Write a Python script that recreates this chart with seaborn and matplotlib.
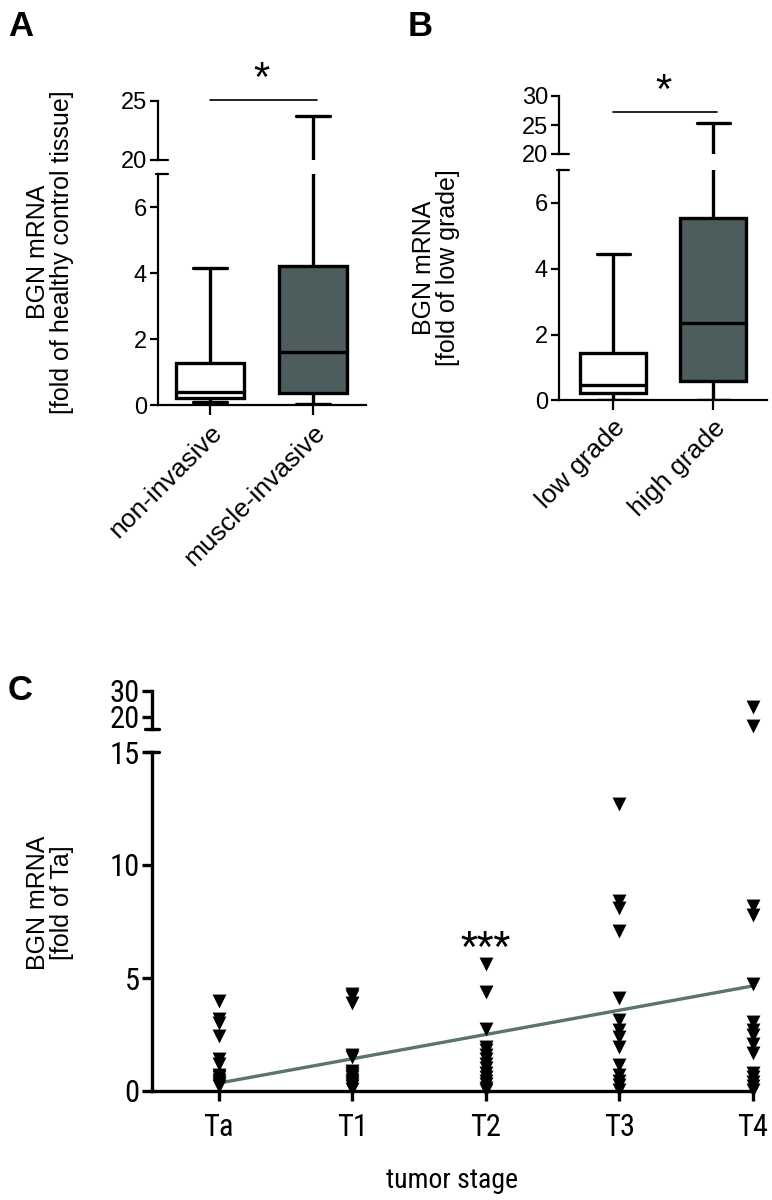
import numpy as np
import pandas as pd
import matplotlib
matplotlib.use("Agg")
import matplotlib.pyplot as plt
import seaborn as sns

# =============================================================================
# DATA
# =============================================================================

# Panel A - five-number summaries (min, q1, median, q3, max)
invasion_groups = ["non-invasive", "muscle-invasive"]
non_invasive = [0.08, 0.2, 0.4, 1.28, 4.15]
muscle_invasive = [0.02, 0.35, 1.6, 4.2, 23.7]

# Panel B - five-number summaries
grade_groups = ["low grade", "high grade"]
low_grade = [0.01, 0.23, 0.46, 1.45, 4.45]
high_grade = [0.02, 0.6, 2.35, 5.55, 25.3]

# Panel C - single values per tumor stage
stages = ["Ta", "T1", "T2", "T3", "T4"]
ta_vals = [4.0, 3.2, 3.0, 2.45, 1.4, 1.2, 0.7, 0.6, 0.5, 0.4, 0.3, 0.2]
t1_vals = [4.3, 4.2, 3.9, 1.6, 1.5, 0.9, 0.8, 0.7, 0.6, 0.5, 0.4, 0.3, 0.2, 0.1]
t2_vals = [5.6, 4.4, 2.75, 1.95, 1.8, 1.6, 1.4, 1.2, 1.0, 0.8, 0.6, 0.45,
           0.3, 0.15, 0.05]
t3_vals = [12.7, 8.4, 8.1, 7.1, 4.1, 3.15, 2.7, 2.4, 1.95, 1.15, 0.7, 0.45,
           0.25, 0.05]
t4_vals = [23.8, 16.5, 8.2, 7.8, 4.75, 3.05, 2.7, 2.5, 2.1, 1.7, 0.8, 0.6,
           0.4, 0.2, 0.05]
trend_vals = [0.35, 4.65]     # trend line at Ta and at T4

sig_a = 25.1
sig_b = 27.2
sig_c = 6.3

# =============================================================================
# STYLE
# =============================================================================

sns.set_theme(style="ticks")
plt.rcParams["font.family"] = ["Liberation Sans", "DejaVu Sans"]
plt.rcParams["axes.linewidth"] = 1.6
plt.rcParams["xtick.major.width"] = 1.6
plt.rcParams["ytick.major.width"] = 1.6
plt.rcParams["xtick.major.size"] = 7
plt.rcParams["ytick.major.size"] = 6
plt.rcParams["xtick.color"] = "black"
plt.rcParams["ytick.color"] = "black"
plt.rcParams["axes.edgecolor"] = "black"
plt.rcParams["text.color"] = "black"
plt.rcParams["axes.labelcolor"] = "black"

NARROW = ["Liberation Sans Narrow", "Roboto Condensed", "Archivo Narrow",
          "PT Sans Narrow", "Liberation Sans", "DejaVu Sans"]
DARK = "#4a5e60"
LINE = "#5b7472"
W, H = 772, 1200

fig = plt.figure(figsize=(7.72, 12), dpi=100)


def px_axes(x0, x1, y0, y1):
    return fig.add_axes([x0 / W, 1 - y1 / H, (x1 - x0) / W, (y1 - y0) / H])


def box_panel(ax_lo, ax_hi, groups, data_a, data_b, hi_lim, hi_ticks, xlim, sig):
    df = pd.DataFrame({
        "group": [groups[0]] * len(data_a) + [groups[1]] * len(data_b),
        "value": data_a + data_b,
    })
    for ax in (ax_lo, ax_hi):
        sns.boxplot(
            data=df, x="group", y="value", hue="group", order=groups,
            palette=["white", DARK], whis=(0, 100), width=0.66,
            linewidth=2.4, linecolor="black", showfliers=False,
            legend=False, ax=ax
        )
        ax.set_xlim(*xlim)
        ax.set_xlabel("")
        ax.set_ylabel("")
        ax.tick_params(labelsize=17, pad=2)
    ax_lo.set_ylim(0, 7)
    ax_lo.set_yticks([0, 2, 4, 6])
    ax_lo.set_xticks(range(len(groups)))
    ax_lo.set_xticklabels(groups, rotation=45, ha="right",
                          rotation_mode="anchor", fontsize=19)
    ax_lo.tick_params(axis="x", pad=4)
    sns.despine(ax=ax_lo)

    ax_hi.set_ylim(*hi_lim)
    ax_hi.set_yticks(hi_ticks)
    ax_hi.set_xticks([])
    sns.despine(ax=ax_hi, bottom=True)

    # break marks
    ax_lo.plot([-0.01, 0.05], [1, 1], transform=ax_lo.transAxes,
               color="black", lw=1.6, clip_on=False)
    ax_hi.plot([-0.01, 0.05], [0, 0], transform=ax_hi.transAxes,
               color="black", lw=1.6, clip_on=False)

    # significance bar
    ax_hi.plot([0, 1.04], [sig, sig], color="black", lw=1.2, clip_on=False)
    ax_hi.text(0.5, sig, "*", ha="center", va="bottom", fontsize=30,
               clip_on=False)


# =============================================================================
# PANEL A
# =============================================================================

a_lo = px_axes(158, 366, 174, 405)
a_hi = px_axes(158, 366, 100.7, 160)
box_panel(a_lo, a_hi, invasion_groups, non_invasive, muscle_invasive,
          (20, 25), [20, 25], (-0.505, 1.515), sig_a)
fig.text(50 / W, 1 - 252 / H,
         "BGN mRNA\n[fold of healthy control tissue]",
         rotation=90, ha="center", va="center", fontsize=18,
         multialignment="center", linespacing=1.05)
fig.text(8 / W, 1 - 10 / H, "A", fontsize=25, fontweight="bold",
         ha="left", va="top")

# =============================================================================
# PANEL B
# =============================================================================

b_lo = px_axes(559, 767, 170, 400.3)
b_hi = px_axes(559, 767, 96, 154)
box_panel(b_lo, b_hi, grade_groups, low_grade, high_grade,
          (20, 30), [20, 25, 30], (-0.54, 1.54), sig_b)
fig.text(436 / W, 1 - 268 / H,
         "BGN mRNA\n[fold of low grade]",
         rotation=90, ha="center", va="center", fontsize=18,
         multialignment="center", linespacing=1.05)
fig.text(408 / W, 1 - 10 / H, "B", fontsize=25, fontweight="bold",
         ha="left", va="top")

# =============================================================================
# PANEL C
# =============================================================================

stage_df = pd.DataFrame({
    "stage": (["Ta"] * len(ta_vals) + ["T1"] * len(t1_vals)
              + ["T2"] * len(t2_vals) + ["T3"] * len(t3_vals)
              + ["T4"] * len(t4_vals)),
    "value": ta_vals + t1_vals + t2_vals + t3_vals + t4_vals,
})

c_lo = px_axes(152, 753, 752, 1091)
c_hi = px_axes(152, 753, 690.7, 729)

lo_part = stage_df[stage_df["value"] <= 15]
hi_part = stage_df[stage_df["value"] > 15]

sns.stripplot(data=lo_part, x="stage", y="value", order=stages,
              jitter=False, marker="v", size=10, color="black",
              linewidth=0, ax=c_lo)
sns.stripplot(data=hi_part, x="stage", y="value", order=stages,
              jitter=False, marker="v", size=10, color="black",
              linewidth=0, ax=c_hi)
for ax in (c_lo, c_hi):
    for coll in ax.collections:
        coll.set_clip_on(False)

sns.lineplot(x=[0, len(stages) - 1], y=trend_vals, color=LINE, lw=2.4,
             ax=c_lo)

for ax in (c_lo, c_hi):
    ax.set_xlim(-0.5, len(stages) - 1)
    ax.set_xlabel("")
    ax.set_ylabel("")
    for sp in ax.spines.values():
        sp.set_linewidth(2.4)
    ax.tick_params(width=2.4, length=7, labelsize=22, pad=2)

c_lo.set_ylim(0, 15)
c_lo.set_yticks([0, 5, 10, 15])
c_lo.set_xticks(range(len(stages)))
c_lo.set_xticklabels(stages)
c_lo.tick_params(axis="x", pad=9)
sns.despine(ax=c_lo)

c_hi.set_ylim(15.3, 30)
c_hi.set_yticks([20, 30])
c_hi.set_xticks([])
sns.despine(ax=c_hi, bottom=True)

for ax in (c_lo, c_hi):
    for lab in ax.get_xticklabels() + ax.get_yticklabels():
        lab.set_family(NARROW)

c_lo.plot([-0.012, 0.012], [1, 1], transform=c_lo.transAxes,
          color="black", lw=2.4, clip_on=False)
c_hi.plot([-0.012, 0.012], [0, 0], transform=c_hi.transAxes,
          color="black", lw=2.4, clip_on=False)

c_lo.text(stages.index("T2"), sig_c, "***", ha="center", va="center",
          fontsize=28, family=NARROW)
c_lo.text(0.5, -0.265, "tumor stage", transform=c_lo.transAxes,
          ha="center", va="center", fontsize=20, family=NARROW)

fig.text(50 / W, 1 - 903 / H, "BGN mRNA\n[fold of Ta]",
         rotation=90, ha="center", va="center", fontsize=18,
         multialignment="center", linespacing=1.05)
fig.text(8 / W, 1 - 674 / H, "C", fontsize=25, fontweight="bold",
         ha="left", va="top")

fig.savefig("out.png", dpi=100)
